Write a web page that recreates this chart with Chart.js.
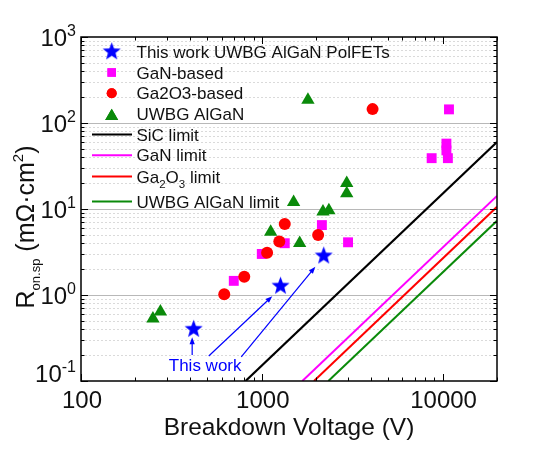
<!DOCTYPE html>
<html><head><meta charset="utf-8">
<script src="https://cdn.jsdelivr.net/npm/chart.js@4.4.1/dist/chart.umd.min.js"></script>
<style>html,body{margin:0;padding:0;background:#fff}canvas{display:block}</style>
</head><body>
<canvas id="c" width="545" height="455"></canvas>
<script>
const FONT='"Liberation Sans", Arial, sans-serif';
const BLUE='#0000ff', MAGENTA='#ff00ff', RED='#ff0000', GREEN='#0a8a0a';

// ---- data (breakdown V, Ron,sp in mOhm.cm2) ----
const thisWorkV=[420,1270,2200];
const thisWorkR=[0.40,1.27,2.85];
const ganV=[700,1000,1340,2150,3000,8700,10500,10500,10700,10850];
const ganR=[1.46,3.0,4.0,6.5,4.1,39,57.6,48,39,144];
const ga2o3V=[620,800,1070,1250,1340,2050,4100];
const ga2o3R=[1.02,1.63,3.1,4.2,6.7,5.0,145];
const alganV=[250,275,1120,1500,1620,1800,2180,2350,2950,2950];
const alganR=[0.53,0.64,5.4,12,4.0,185,9.3,9.6,20,15.2];

// limit lines (end points, slope 2 on log-log)
const sicLimV=[813,20000],   sicLimR=[0.1,60];
const ganLimV=[1676,20000],  ganLimR=[0.1,14.2];
const gaoLimV=[1944,20000],  gaoLimR=[0.1,10.6];
const alnLimV=[2335,20000],  alnLimR=[0.1,7.3];

// axes
const xTickVals=[100,1000,10000];
const xTickLabels=['100','1000','10000'];
const yTickVals=[0.1,1,10,100,1000];
const yTickExp=['-1','0','1','2','3'];

// "This work" note + arrows (data coords)
const noteAt=[486,0.153];
const arrowFrom=[[412,0.20],[509,0.195],[770,0.191]];
const arrowTo=[[412,0.322],[1143,0.97],[1978,2.13]];

const pts=(xs,ys)=>xs.map((x,i)=>({x:x,y:ys[i]}));

function starImg(r,color){
  const c=document.createElement('canvas');
  c.width=c.height=Math.ceil(2*r+2);
  const g=c.getContext('2d');g.fillStyle=color;g.beginPath();
  for(let i=0;i<10;i++){
    const a=-Math.PI/2+i*Math.PI/5, rr=i%2?r*0.42:r;
    g.lineTo(c.width/2+rr*Math.cos(a),c.height/2+rr*Math.sin(a));
  }
  g.closePath();g.fill();return c;
}
const STAR=starImg(9.5,BLUE);

function richW(ctx,parts){
  let w=0;parts.forEach(p=>{ctx.font=p.s+'px '+FONT;w+=ctx.measureText(p.t).width;});return w;
}
function drawRich(ctx,parts,x,yMid,align,color){
  const w=richW(ctx,parts);
  let x0=align==='right'?x-w:align==='center'?x-w/2:x;
  const base=yMid+0.36*parts[0].s;
  ctx.fillStyle=color||'#111';ctx.textBaseline='alphabetic';ctx.textAlign='left';
  parts.forEach(p=>{ctx.font=p.s+'px '+FONT;ctx.fillText(p.t,x0,base+(p.dy||0));x0+=ctx.measureText(p.t).width;});
}

const LEGEND=[
  {kind:'pt',style:'star',color:BLUE,parts:[{t:'This work UWBG AlGaN PolFETs',s:17}]},
  {kind:'pt',style:'rect',r:6,color:MAGENTA,parts:[{t:'GaN-based',s:17}]},
  {kind:'pt',style:'circle',r:5,color:RED,parts:[{t:'Ga2O3-based',s:17}]},
  {kind:'pt',style:'triangle',r:7.5,color:GREEN,parts:[{t:'UWBG AlGaN',s:17}]},
  {kind:'ln',color:'#000',parts:[{t:'SiC limit',s:17}]},
  {kind:'ln',color:MAGENTA,parts:[{t:'GaN limit',s:17}]},
  {kind:'ln',color:RED,parts:[{t:'Ga',s:17},{t:'2',s:11.5,dy:5},{t:'O',s:17},{t:'3',s:11.5,dy:5},{t:' limit',s:17}]},
  {kind:'ln',color:GREEN,parts:[{t:'UWBG AlGaN limit',s:17}]}
];
const legendRowY=[51.7,72.5,93.3,114.3,134.5,155.3,176.5,201.5];

function arrow(ctx,x1,y1,x2,y2){
  const a=Math.atan2(y2-y1,x2-x1), L=7, W=2.6;
  ctx.beginPath();ctx.moveTo(x1,y1);ctx.lineTo(x2-Math.cos(a)*L*0.8,y2-Math.sin(a)*L*0.8);ctx.stroke();
  ctx.beginPath();ctx.moveTo(x2,y2);
  ctx.lineTo(x2-L*Math.cos(a)+W*Math.sin(a),y2-L*Math.sin(a)-W*Math.cos(a));
  ctx.lineTo(x2-L*Math.cos(a)-W*Math.sin(a),y2-L*Math.sin(a)+W*Math.cos(a));
  ctx.closePath();ctx.fill();
}

const decor={
  id:'decor',
  beforeDatasetsDraw(chart){
    const ctx=chart.ctx, a=chart.chartArea, y=chart.scales.y;
    ctx.save();
    for(let e=-1;e<3;e++){
      for(let k=1;k<10;k++){
        const v=k*Math.pow(10,e), py=y.getPixelForValue(v);
        if(k===1){ if(e===-1) continue; ctx.strokeStyle='#b8b8b8';ctx.setLineDash([]);ctx.lineWidth=1; }
        else { ctx.strokeStyle='#dadada';ctx.setLineDash([2,2]);ctx.lineWidth=1; }
        ctx.beginPath();ctx.moveTo(a.left,Math.round(py)+0.5);ctx.lineTo(a.right,Math.round(py)+0.5);ctx.stroke();
      }
    }
    ctx.restore();
  },
  afterDatasetsDraw(chart){
    const ctx=chart.ctx, a=chart.chartArea, x=chart.scales.x, y=chart.scales.y;
    ctx.save();
    // frame
    ctx.strokeStyle='#000';ctx.lineWidth=1.5;ctx.setLineDash([]);
    ctx.strokeRect(a.left,a.top,a.right-a.left,a.bottom-a.top);
    // ticks
    ctx.lineWidth=1;ctx.beginPath();
    for(let e=2;e<=4;e++)for(let k=1;k<10;k++){
      const v=k*Math.pow(10,e); if(v<100||v>20000) continue;
      const px=Math.round(x.getPixelForValue(v))+0.5, L=k===1?7:3.5;
      ctx.moveTo(px,a.bottom);ctx.lineTo(px,a.bottom-L);
      ctx.moveTo(px,a.top);ctx.lineTo(px,a.top+L);
    }
    for(let e=-1;e<=3;e++)for(let k=1;k<10;k++){
      const v=k*Math.pow(10,e); if(v>1000) continue;
      const py=Math.round(y.getPixelForValue(v))+0.5, L=k===1?7:3.5;
      ctx.moveTo(a.left,py);ctx.lineTo(a.left+L,py);
      ctx.moveTo(a.right,py);ctx.lineTo(a.right-L,py);
    }
    ctx.stroke();
    // tick labels
    xTickVals.forEach((v,i)=>{
      drawRich(ctx,[{t:xTickLabels[i],s:24}],x.getPixelForValue(v)+1,a.bottom+18,'center');
    });
    yTickVals.forEach((v,i)=>{
      const py=y.getPixelForValue(v)-(i===0?8:0);
      drawRich(ctx,[{t:'10',s:24},{t:yTickExp[i],s:16,dy:-10}],76,py,'right');
    });
    // axis titles
    drawRich(ctx,[{t:'Breakdown Voltage (V)',s:24.5}],289,426,'center');
    ctx.save();ctx.translate(25,227);ctx.rotate(-Math.PI/2);
    drawRich(ctx,[{t:'R',s:25},{t:'on.sp',s:13,dy:6},{t:' (mΩ·cm',s:25},{t:'2',s:15,dy:-11},{t:')',s:25}],0,0,'center');
    ctx.restore();
    // legend
    LEGEND.forEach((it,i)=>{
      const ly=legendRowY[i];
      if(it.kind==='pt'){
        if(it.style==='star') ctx.drawImage(STAR,111.7-STAR.width/2,ly-STAR.height/2);
        else{ ctx.fillStyle=it.color;
          Chart.helpers.drawPoint(ctx,{pointStyle:it.style,radius:it.r,borderWidth:0,rotation:0},111.7,ly+(it.style==='triangle'?2:0)); ctx.fill(); }
      }else{
        ctx.strokeStyle=it.color;ctx.lineWidth=2;ctx.beginPath();ctx.moveTo(92,ly);ctx.lineTo(132,ly);ctx.stroke();
      }
      drawRich(ctx,it.parts,136.5,ly,'left');
    });
    // "This work" annotation
    ctx.strokeStyle=BLUE;ctx.fillStyle=BLUE;ctx.lineWidth=1.2;
    arrowFrom.forEach((f,i)=>{
      const t=arrowTo[i];
      arrow(ctx,x.getPixelForValue(f[0]),y.getPixelForValue(f[1]),x.getPixelForValue(t[0]),y.getPixelForValue(t[1]));
    });
    drawRich(ctx,[{t:'This work',s:17}],x.getPixelForValue(noteAt[0]),y.getPixelForValue(noteAt[1]),'center',BLUE);
    ctx.restore();
  }
};

const lineDs=(label,xs,ys,color,w,ord)=>({label:label,data:pts(xs,ys),showLine:true,borderColor:color,borderWidth:w,pointRadius:0,fill:false,order:ord});

new Chart(document.getElementById('c'),{
  type:'scatter',
  data:{datasets:[
    {label:'This work UWBG AlGaN PolFETs',data:pts(thisWorkV,thisWorkR),pointStyle:STAR,pointRadius:9.5,order:0},
    {label:'UWBG AlGaN',data:pts(alganV,alganR),pointStyle:'triangle',pointRadius:7.7,backgroundColor:GREEN,pointBorderWidth:0,order:1},
    {label:'Ga2O3-based',data:pts(ga2o3V,ga2o3R),pointStyle:'circle',pointRadius:6,backgroundColor:RED,pointBorderWidth:0,order:2},
    {label:'GaN-based',data:pts(ganV,ganR),pointStyle:'rect',pointRadius:7,backgroundColor:MAGENTA,pointBorderWidth:0,order:3},
    lineDs('SiC limit',sicLimV,sicLimR,'#000',2.2,4),
    lineDs('GaN limit',ganLimV,ganLimR,MAGENTA,2,5),
    lineDs('Ga2O3 limit',gaoLimV,gaoLimR,RED,2,6),
    lineDs('UWBG AlGaN limit',alnLimV,alnLimR,GREEN,2,7)
  ]},
  options:{
    responsive:false,animation:false,devicePixelRatio:1,
    layout:{padding:{left:81,right:48,top:37,bottom:74}},
    plugins:{legend:{display:false},tooltip:{enabled:false}},
    scales:{
      x:{type:'logarithmic',min:100,max:20000,display:false},
      y:{type:'logarithmic',min:0.1,max:1000,display:false}
    }
  },
  plugins:[decor]
});
</script>
</body></html>
